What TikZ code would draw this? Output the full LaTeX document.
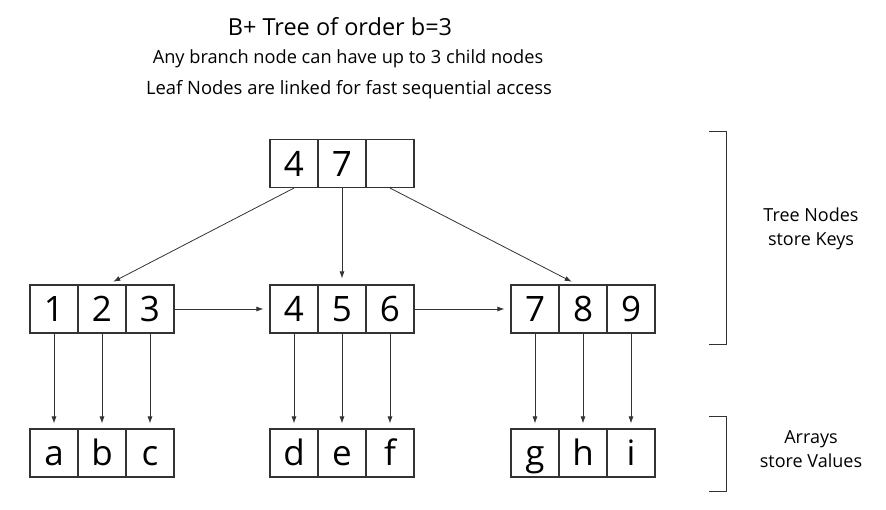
\documentclass[tikz,border=0pt]{standalone}
\usepackage{fontspec}
\setmainfont{Open Sans}
\usetikzlibrary{arrows.meta}
\definecolor{ln}{HTML}{333333}
\tikzset{
  cell/.style={draw=ln, line width=1.1pt, minimum width=48pt, minimum height=48pt, inner sep=0pt, text height=25pt, text depth=0pt, font=\fontsize{35}{35}\selectfont},
  arr/.style={draw=ln, line width=0.8pt, -{Latex[length=7pt,width=5pt]}, shorten >=6pt},
  brk/.style={draw=ln, line width=0.9pt},
  side/.style={font=\fontsize{18}{24}\selectfont, align=center},
}
\begin{document}
\begin{tikzpicture}[x=1pt,y=-1pt]
\useasboundingbox (0,0) rectangle (886,509);
% titles
\node[anchor=base, font=\fontsize{23.5}{23.5}\selectfont] (t1) at (340,35) {B+ Tree of order b=3};
\node[anchor=base, font=\fontsize{18.2}{18.2}\selectfont] (t2) at (348,63) {Any branch node can have up to 3 child nodes};
\node[anchor=base, font=\fontsize{18.4}{18.4}\selectfont] (t3) at (349,94) {Leaf Nodes are linked for fast sequential access};
% root
\node[cell] (r1) at (294,163.5) {4};
\node[cell] (r2) at (342,163.5) {7};
\node[cell] (r3) at (390,163.5) {};
% leaves
\node[cell] (l1) at (54,309) {1};
\node[cell] (l2) at (102,309) {2};
\node[cell] (l3) at (150,309) {3};
\node[cell] (l4) at (294,309) {4};
\node[cell] (l5) at (342,309) {5};
\node[cell] (l6) at (390,309) {6};
\node[cell] (l7) at (535,309) {7};
\node[cell] (l8) at (583,309) {8};
\node[cell] (l9) at (631,309) {9};
% arrays
\node[cell] (va) at (54,453) {a};
\node[cell] (vb) at (102,453) {b};
\node[cell] (vc) at (150,453) {c};
\node[cell] (vd) at (294,453) {d};
\node[cell] (ve) at (342,453) {e};
\node[cell] (vf) at (390,453) {f};
\node[cell] (vg) at (535,453) {g};
\node[cell] (vh) at (583,453) {h};
\node[cell] (vi) at (631,453) {i};
% root to leaves
\draw[arr] (r1.south) -- ([xshift=6pt]l2.north);
\draw[arr] (r2.south) -- (l5.north);
\draw[arr] (r3.south) -- ([xshift=-6pt]l8.north);
% leaf links
\draw[arr] (l3.east) -- (l4.west);
\draw[arr] (l6.east) -- (l7.west);
% leaf to values
\foreach \s/\t in {l1/va,l2/vb,l3/vc,l4/vd,l5/ve,l6/vf,l7/vg,l8/vh,l9/vi}
  \draw[arr, shorten >=5pt] (\s.south) -- (\t.north);
% brackets
\coordinate (b1a) at (709,131);
\coordinate (b1b) at (726,131);
\coordinate (b1c) at (726,344);
\coordinate (b1d) at (709,344);
\draw[brk] (b1a) -- (b1b) -- (b1c) -- (b1d);
\coordinate (b2a) at (709,416);
\coordinate (b2b) at (726,416);
\coordinate (b2c) at (726,491);
\coordinate (b2d) at (709,491);
\draw[brk] (b2a) -- (b2b) -- (b2c) -- (b2d);
\node[side] (s1) at (811,229) {Tree Nodes\\store Keys};
\node[side] (s2) at (811,449) {Arrays\\store Values};
\end{tikzpicture}
\end{document}
